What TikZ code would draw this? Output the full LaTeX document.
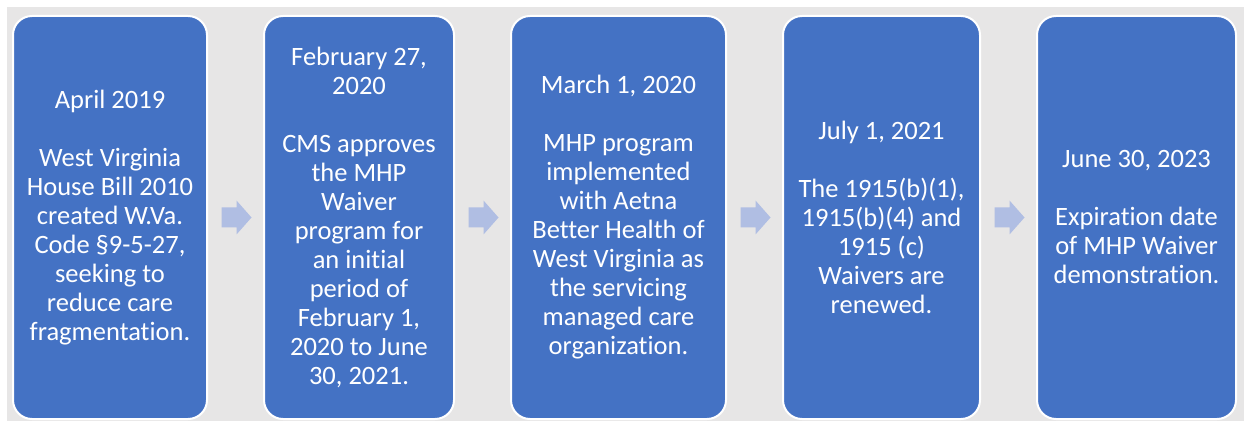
\documentclass[tikz,border=0pt]{standalone}
\usepackage{fontspec}
\setmainfont{Carlito}[Ligatures=NoCommon]
\usetikzlibrary{positioning, calc}

\definecolor{panelgray}{HTML}{E7E6E6}
\definecolor{stageblue}{HTML}{4472C4}
\definecolor{arrowblue}{RGB}{176,190,227}

\tikzset{
  stage/.style={draw=white, line width=2pt, fill=stageblue, rounded corners=19pt,
    minimum height=403pt, inner sep=0pt, text=white, align=center,
    font=\fontsize{26.5}{29}\selectfont},
  nextarrow/.style={fill=arrowblue},
}

\begin{document}
\begin{tikzpicture}[x=1pt, y=1pt, node distance=55pt]
  % Page and panel
  \useasboundingbox (0,0) rectangle (1244,423);
  \fill[panelgray] (7,2) rectangle (1244,416);
  % Stages
  \node[stage, minimum width=194pt, anchor=west] (apr) at (12,205.5)
    {April 2019\\[29pt]West Virginia\\House Bill 2010\\created W.Va.\\Code §9-5-27,\\seeking to\\reduce care\\fragmentation.};
  \node[stage, minimum width=190pt, right=of apr] (feb)
    {February 27,\\2020\\[29pt]CMS approves\\the MHP\\Waiver\\program for\\an initial\\period of\\February 1,\\2020 to June\\30, 2021.};
  \node[stage, minimum width=215pt, right=of feb] (mar)
    {March 1, 2020\\[29pt]MHP program\\implemented\\with Aetna\\Better Health of\\West Virginia as\\the servicing\\managed care\\organization.};
  \node[stage, minimum width=197pt, right=of mar] (jul)
    {July 1, 2021\\[29pt]The 1915(b)(1),\\1915(b)(4) and\\1915 (c)\\Waivers are\\renewed.};
  \node[stage, minimum width=199pt, right=of jul] (jun)
    {June 30, 2023\\[29pt]Expiration date\\of MHP Waiver\\demonstration.};
  % Arrows between stages
  \foreach \a/\b in {apr/feb, feb/mar, mar/jul, jul/jun}
    \fill[nextarrow] ($(\a.east)!0.5!(\b.west)$) ++(-14,-10) -- ++(15,0) -- ++(0,-7)
      -- ++(15,17) -- ++(-15,17) -- ++(0,-7) -- ++(-15,0) -- cycle;
\end{tikzpicture}
\end{document}
